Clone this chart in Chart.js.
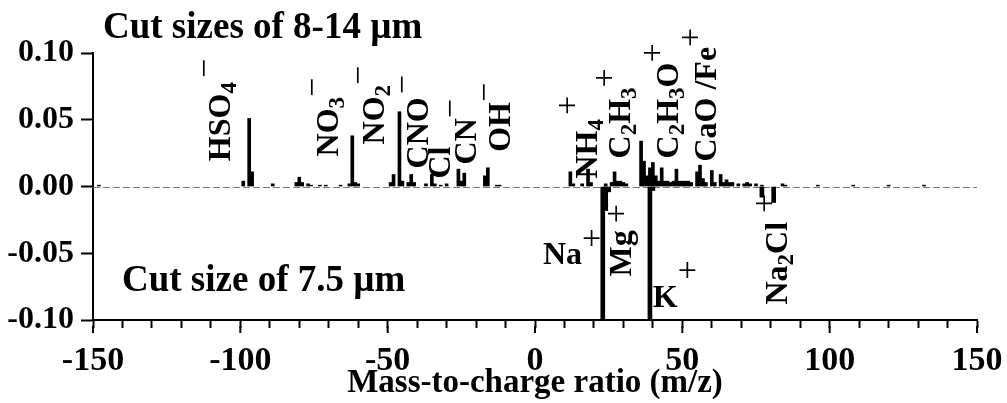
<!DOCTYPE html>
<html>
<head>
<meta charset="utf-8">
<script src="https://cdn.jsdelivr.net/npm/chart.js@4.4.0/dist/chart.umd.min.js"></script>
<style>
  body { margin: 0; background: #fff; }
  #wrap { width: 1007px; height: 403px; }
</style>
</head>
<body>
<div id="wrap"><canvas id="ms" width="1007" height="403"></canvas></div>
<script>
// cut sizes of 8-14 um, drawn above zero (negative m/z = negative ions)
const mzTop = [-148, -99, -97, -96, -89, -81, -80, -79, -77, -76, -73, -71, -66, -63, -62, -61, -60,
  -49, -48, -46, -45, -43, -42, -41, -37, -35, -34, -32, -30, -26, -25, -24, -17, -16, -13, -12,
  12, 13, 16, 18, 19, 24, 26, 27, 28, 29, 30, 31, 36, 37, 38, 39, 40, 41, 42, 43, 44, 45, 46, 47,
  48, 49, 50, 51, 52, 53, 55, 56, 57, 58, 60, 61, 63, 64, 65, 66, 67, 69, 71, 72, 73, 75, 77, 84,
  85, 96, 108, 120, 132];
const valTop = [0.001, 0.004, 0.051, 0.011, 0.002, 0.003, 0.007, 0.003, 0.002, 0.001, 0.001, 0.001, 0.001, 0.002, 0.038, 0.003, 0.002,
  0.003, 0.009, 0.056, 0.004, 0.003, 0.009, 0.003, 0.002, 0.009, 0.002, 0.001, 0.002, 0.013, 0.004, 0.010, 0.008, 0.014, 0.001, 0.001,
  0.011, 0.002, 0.002, 0.013, 0.003, 0.002, 0.003, 0.011, 0.004, 0.004, 0.003, 0.002, 0.034, 0.019, 0.008, 0.014, 0.018, 0.008, 0.004, 0.014, 0.004, 0.004, 0.003, 0.004,
  0.013, 0.004, 0.004, 0.004, 0.004, 0.003, 0.011, 0.016, 0.006, 0.003, 0.012, 0.003, 0.009, 0.003, 0.005, 0.003, 0.003, 0.002, 0.002, 0.003, 0.002, 0.002, 0.001, 0.002,
  0.001, 0.001, 0.001, 0.001, 0.001];

// cut size of 7.5 um, drawn below zero
const mzBottom = [23, 24, 25, 39, 40, 77, 81];
const valBottom = [-0.100, -0.018, -0.004, -0.100, -0.003, -0.008, -0.012];

const xLabels = [-150, -100, -50, 0, 50, 100, 150];
const yTicks = [-0.10, -0.05, 0.00, 0.05, 0.10];

// ion labels: n = main text, b = subscript, p = charge sign
// ps / gap tweak where the sign sits for a few of them
const ions = [
  { mz: -103.5, v: 0.019, rot: true, t: [['HSO', 'n'], ['4', 'b'], ['\u2212', 'p']], gap: 4 },
  { mz: -66.8, v: 0.0225, rot: true, t: [['NO', 'n'], ['3', 'b'], ['\u2212', 'p']] },
  { mz: -51.2, v: 0.0315, rot: true, t: [['NO', 'n'], ['2', 'b'], ['\u2212', 'p']] },
  { mz: -36.3, v: 0.0135, rot: true, t: [['CNO', 'n'], ['\u2212', 'p']], gap: 3 },
  { mz: -28.8, v: 0.006, rot: true, t: [['Cl', 'n']] },
  { mz: -20.0, v: 0.0165, rot: true, t: [['CN', 'n'], ['\u2212', 'p']] },
  { mz: -8.5, v: 0.026, rot: true, t: [['OH', 'n'], ['\u2212', 'p']] },
  { mz: 21.0, v: 0.006, rot: true, t: [['NH', 'n'], ['4', 'b'], ['+', 'p']], ps: -19, gap: 4 },
  { mz: 32.2, v: 0.021, rot: true, t: [['C', 'n'], ['2', 'b'], ['H', 'n'], ['3', 'b'], ['+', 'p']] },
  { mz: 48.5, v: 0.021, rot: true, t: [['C', 'n'], ['2', 'b'], ['H', 'n'], ['3', 'b'], ['O', 'n'], ['+', 'p']] },
  { mz: 61.4, v: 0.0187, rot: true, t: [['CaO /Fe', 'n'], ['+', 'p']] },
  { mz: 32.6, v: -0.0674, rot: true, t: [['Mg', 'n'], ['+', 'p']], ps: -4, gap: 7 },
  { mz: 85.5, v: -0.0884, rot: true, t: [['Na', 'n'], ['2', 'b'], ['Cl', 'n'], ['+', 'p']], ps: -12, gap: 9 },
  { mz: 2.7, v: -0.0584, rot: false, t: [['Na', 'n'], ['+', 'p']] },
  { mz: 40.0, v: -0.0899, rot: false, t: [['K', 'n'], ['+', 'p']], ps: -26 }
];

const SERIF = '"Liberation Serif", "Times New Roman", serif';
const partFont = {
  n: 'bold 32px ' + SERIF,
  b: 'bold 23px ' + SERIF,
  p: '34px ' + SERIF
};
const partShift = { n: 0, b: 6, p: -15 };

function drawParts(ctx, l, x, y) {
  ctx.save();
  ctx.translate(x, y);
  if (l.rot) ctx.rotate(-Math.PI / 2);
  ctx.textBaseline = 'alphabetic';
  ctx.textAlign = 'left';
  let cx = 0;
  l.t.forEach(([s, k]) => {
    ctx.font = partFont[k];
    let dy = partShift[k];
    if (k === 'p') {
      if (l.ps !== undefined) dy = l.ps;
      cx += l.gap || 0;
    }
    ctx.fillText(s, cx, dy);
    cx += ctx.measureText(s).width;
  });
  ctx.restore();
}

const decor = {
  id: 'decor',
  beforeDatasetsDraw(chart) {
    const { ctx, chartArea: a, scales: { y } } = chart;
    const y0 = Math.round(y.getPixelForValue(0)) + 0.5;
    ctx.save();
    ctx.strokeStyle = '#777';
    ctx.lineWidth = 1;
    ctx.setLineDash([7, 3]);
    ctx.beginPath();
    ctx.moveTo(a.left, y0);
    ctx.lineTo(a.right, y0);
    ctx.stroke();
    ctx.restore();
  },
  afterDraw(chart) {
    const { ctx, scales: { x, y } } = chart;
    ctx.save();
    // longer ticks where the x axis is labelled
    ctx.strokeStyle = '#000';
    ctx.lineWidth = 2;
    xLabels.forEach(v => {
      const px = x.getPixelForValue(v);
      ctx.beginPath();
      ctx.moveTo(px, y.bottom + 6);
      ctx.lineTo(px, y.bottom + 13);
      ctx.stroke();
    });
    ctx.fillStyle = '#000';
    ctx.font = 'bold 37px ' + SERIF;
    ctx.fillText('Cut sizes of 8-14 \u00b5m', 103, 38);
    ctx.fillText('Cut size of 7.5 \u00b5m', 122, 291);
    ions.forEach(l => {
      drawParts(ctx, l, x.getPixelForValue(l.mz), y.getPixelForValue(l.v));
    });
    ctx.restore();
  }
};

new Chart(document.getElementById('ms'), {
  type: 'bar',
  data: {
    datasets: [
      {
        label: '8-14 \u00b5m',
        data: mzTop.map((m, i) => ({ x: m, y: valTop[i] })),
        backgroundColor: '#000',
        barThickness: 3,
        grouped: false
      },
      {
        label: '7.5 \u00b5m',
        data: mzBottom.map((m, i) => ({ x: m, y: valBottom[i] })),
        backgroundColor: '#000',
        barThickness: 4,
        grouped: false
      }
    ]
  },
  options: {
    responsive: false,
    animation: false,
    layout: { padding: { top: 53, right: 30, left: 0, bottom: 0 } },
    plugins: { legend: { display: false }, tooltip: { enabled: false } },
    scales: {
      x: {
        type: 'linear',
        min: -150,
        max: 150,
        offset: false,
        afterFit: s => { s.height = 83; s.paddingLeft = 0; s.paddingRight = 0; },
        grid: { offset: false, drawOnChartArea: false, drawTicks: true, tickLength: 8, tickWidth: 2, tickColor: '#000' },
        border: { color: '#000', width: 2 },
        ticks: {
          stepSize: 10,
          autoSkip: false,
          maxRotation: 0,
          padding: 13,
          color: '#000',
          font: { family: SERIF, size: 34, weight: 'bold' },
          callback: v => (xLabels.includes(v) ? String(v) : '')
        },
        title: {
          display: true,
          text: 'Mass-to-charge ratio (m/z)',
          color: '#000',
          font: { family: SERIF, size: 33, weight: 'bold' },
          padding: { top: 0, bottom: 0 }
        }
      },
      y: {
        min: -0.1,
        max: 0.1,
        afterFit: s => { s.width = 93; s.paddingTop = 0; s.paddingBottom = 0; },
        afterBuildTicks: s => { s.ticks = yTicks.map(v => ({ value: v })); },
        grid: { drawOnChartArea: false, drawTicks: true, tickLength: 12, tickWidth: 2, tickColor: '#000' },
        border: { color: '#000', width: 2 },
        ticks: {
          padding: 7,
          color: '#000',
          font: { family: SERIF, size: 32, weight: 'bold' },
          callback: v => (Math.abs(v) < 1e-9 ? 0 : v).toFixed(2)
        }
      }
    }
  },
  plugins: [decor]
});
</script>
</body>
</html>
